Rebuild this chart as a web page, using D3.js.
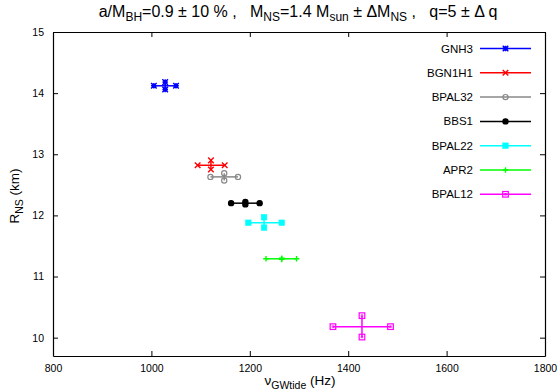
<!DOCTYPE html>
<html>
<head>
<meta charset="utf-8">
<script src="https://cdn.jsdelivr.net/npm/d3@7"></script>
<style>
  body { margin: 0; background: #fff; }
  text { font-family: "Liberation Sans", Arial, sans-serif; white-space: pre; }
</style>
</head>
<body>
<svg id="chart" width="558" height="390"></svg>
<script>
// equation-of-state models
var models = ["GNH3", "BGN1H1", "BPAL32", "BBS1", "BPAL22", "APR2", "BPAL12"];
var freqMid = [1028, 1121, 1148, 1191, 1229, 1265, 1428];
var freqLow = [1005, 1094, 1120, 1162, 1197, 1233, 1369];
var freqHigh = [1050, 1149, 1176, 1220, 1265, 1295, 1486];
var radMid = [14.12, 12.82, 12.63, 12.20, 11.88, 11.29, 10.18];
var radLow = [14.06, 12.75, 12.57, 12.18, 11.80, 11.28, 10.01];
var radHigh = [14.18, 12.90, 12.69, 12.22, 11.97, 11.30, 10.36];
var xTicks = [800, 1000, 1200, 1400, 1600, 1800];
var yTicks = [10, 11, 12, 13, 14, 15];

// look of each model
var colors = ["#0000ff", "#ff0000", "#888888", "#000000", "#00ffff", "#00ff00", "#ff00ff"];
var shapes = ["star", "cross", "ocircle", "fcircle", "fsquare", "plus", "osquare"];

var svg = d3.select("#chart");
var mLeft = 53, mRight = 545, mTop = 32, mBottom = 356;

var x = d3.scaleLinear().domain([800, 1800]).range([mLeft, mRight]);
var y = d3.scaleLinear().domain([9.7, 15]).range([mBottom, mTop]);

// axes, ticks pointing inward, mirrored on the other side
svg.append("g")
  .attr("transform", "translate(0," + mBottom + ")")
  .call(d3.axisBottom(x).tickValues(xTicks).tickFormat(d3.format("d")).tickSizeInner(-5).tickSizeOuter(0).tickPadding(9))
  .call(styleAxis);
svg.append("g")
  .attr("transform", "translate(0," + mTop + ")")
  .call(d3.axisTop(x).tickValues(xTicks).tickSizeInner(-5).tickSizeOuter(0).tickFormat(""))
  .call(styleAxis);
svg.append("g")
  .attr("transform", "translate(" + mLeft + ",0)")
  .call(d3.axisLeft(y).tickValues(yTicks).tickFormat(d3.format("d")).tickSizeInner(-5).tickSizeOuter(0).tickPadding(9))
  .call(styleAxis);
svg.append("g")
  .attr("transform", "translate(" + mRight + ",0)")
  .call(d3.axisRight(y).tickValues(yTicks).tickSizeInner(-5).tickSizeOuter(0).tickFormat(""))
  .call(styleAxis);

function styleAxis(g) {
  g.select(".domain").attr("stroke", "#000").attr("stroke-width", 1.2);
  g.selectAll(".tick line").attr("stroke", "#000").attr("stroke-width", 1);
  g.selectAll(".tick text").attr("font-size", 10.5).attr("fill", "#000")
    .style("font-family", "Liberation Sans, Arial, sans-serif");
}

// point marker shapes (gnuplot style)
function marker(g, shape, cx, cy, color) {
  var s = 2.8;
  if (shape == "star" || shape == "cross" || shape == "plus") {
    var p = "";
    if (shape != "plus")
      p += "M" + (cx - s) + "," + (cy - s) + "L" + (cx + s) + "," + (cy + s) +
           "M" + (cx - s) + "," + (cy + s) + "L" + (cx + s) + "," + (cy - s);
    if (shape != "cross")
      p += "M" + (cx - s) + "," + cy + "L" + (cx + s) + "," + cy +
           "M" + cx + "," + (cy - s) + "L" + cx + "," + (cy + s);
    g.append("path").attr("d", p).attr("stroke", color).attr("stroke-width", 1.4).attr("fill", "none");
    if (shape == "star")
      g.append("rect").attr("x", cx - 2).attr("y", cy - 2).attr("width", 4).attr("height", 4).attr("fill", color);
  } else if (shape == "ocircle" || shape == "fcircle") {
    g.append("circle").attr("cx", cx).attr("cy", cy).attr("r", 2.6)
      .attr("fill", shape == "fcircle" ? color : "none")
      .attr("stroke", color).attr("stroke-width", 1.2);
  } else {
    var fill = shape == "fsquare";
    g.append("rect").attr("x", cx - s).attr("y", cy - s).attr("width", 2 * s).attr("height", 2 * s)
      .attr("fill", fill ? color : "none")
      .attr("stroke", color).attr("stroke-width", fill ? 0.5 : 1.2);
    if (!fill)
      g.append("rect").attr("x", cx - 0.8).attr("y", cy - 0.8).attr("width", 1.6).attr("height", 1.6)
        .attr("fill", "none").attr("stroke", color).attr("stroke-width", 0.7);
  }
}

// error crosses
var plot = svg.append("g");
models.forEach(function(m, i) {
  var g = plot.append("g");
  var c = colors[i];
  g.append("line")
    .attr("x1", x(freqLow[i])).attr("x2", x(freqHigh[i]))
    .attr("y1", y(radMid[i])).attr("y2", y(radMid[i]))
    .attr("stroke", c).attr("stroke-width", 1.5);
  g.append("line")
    .attr("x1", x(freqMid[i])).attr("x2", x(freqMid[i]))
    .attr("y1", y(radLow[i])).attr("y2", y(radHigh[i]))
    .attr("stroke", c).attr("stroke-width", 1.5);
  marker(g, shapes[i], x(freqLow[i]), y(radMid[i]), c);
  marker(g, shapes[i], x(freqHigh[i]), y(radMid[i]), c);
  marker(g, shapes[i], x(freqMid[i]), y(radLow[i]), c);
  marker(g, shapes[i], x(freqMid[i]), y(radHigh[i]), c);
});

// legend
var legend = svg.append("g");
models.forEach(function(m, i) {
  var ly = 48.5 + i * 24.3;
  legend.append("text").attr("x", 473).attr("y", ly + 4).attr("text-anchor", "end")
    .attr("font-size", 11.5).text(m);
  legend.append("line").attr("x1", 480).attr("x2", 531).attr("y1", ly).attr("y2", ly)
    .attr("stroke", colors[i]).attr("stroke-width", 1.5);
  marker(legend, shapes[i], 505.5, ly, colors[i]);
});

// title
var title = svg.append("text").attr("x", 298).attr("y", 17).attr("text-anchor", "middle").attr("font-size", 16);
title.append("tspan").text("a/M");
title.append("tspan").attr("dy", 4).attr("font-size", 12).text("BH");
title.append("tspan").attr("dy", -4).text("=0.9 \u00b1 10 % ,   M");
title.append("tspan").attr("dy", 4).attr("font-size", 12).text("NS");
title.append("tspan").attr("dy", -4).text("=1.4 M");
title.append("tspan").attr("dy", 4).attr("font-size", 12).text("sun");
title.append("tspan").attr("dy", -4).text(" \u00b1 \u0394M");
title.append("tspan").attr("dy", 4).attr("font-size", 12).text("NS");
title.append("tspan").attr("dy", -4).text(" ,   q=5 \u00b1 \u0394 q");

// axis labels
var xl = svg.append("text").attr("x", 300).attr("y", 385).attr("text-anchor", "middle").attr("font-size", 13.5);
xl.append("tspan").text("\u03bd");
xl.append("tspan").attr("dy", 4).attr("font-size", 10.5).text("GWtide");
xl.append("tspan").attr("dy", -4).text(" (Hz)");

var yl = svg.append("text").attr("transform", "translate(19,196) rotate(-90)")
  .attr("text-anchor", "middle").attr("font-size", 13.5);
yl.append("tspan").text("R");
yl.append("tspan").attr("dy", 4).attr("font-size", 10.5).text("NS");
yl.append("tspan").attr("dy", -4).text(" (km)");
</script>
</body>
</html>
